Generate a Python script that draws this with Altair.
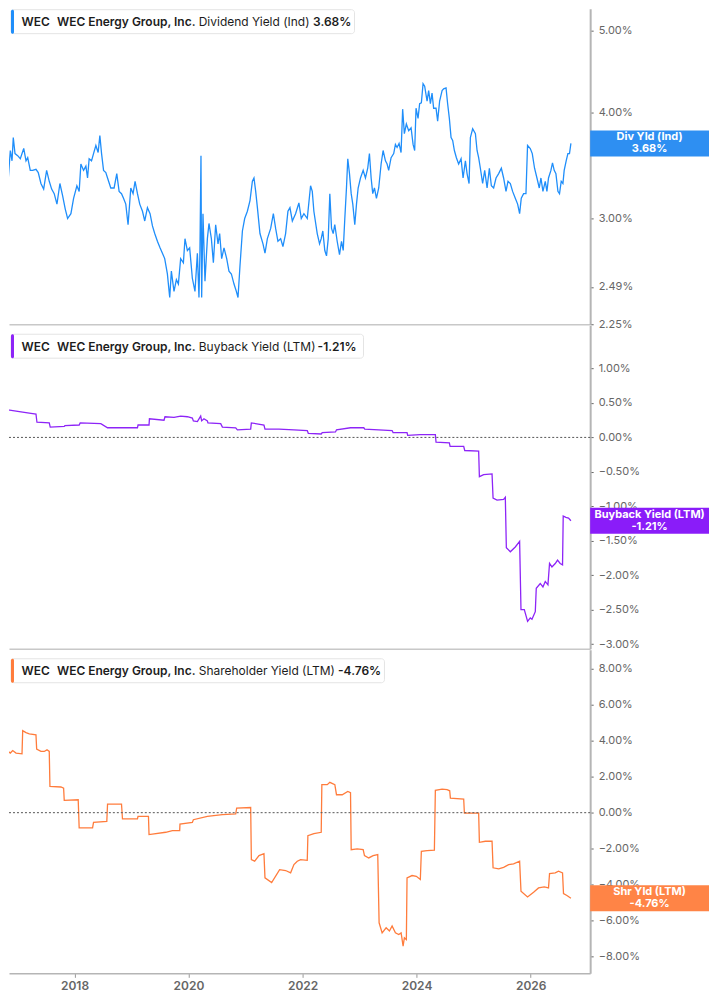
import altair as alt
import pandas as pd

FONT = "Inter"
BLUE = "#1f8efa"
BLUE_TAG = "#2e8ff2"
PURPLE = "#8d24f7"
PURPLE_TAG = "#8a1cf9"
ORANGE = "#ff7c3c"
ORANGE_TAG = "#ff8446"
AXIS_GREY = "#b5b5b5"
LABEL_GREY = "#666666"

# Dividend Yield (Ind), % -- decimal year / value
div_year = [
    2016.711, 2016.729, 2016.769, 2016.799, 2016.839, 2016.874, 2016.904, 2016.926, 2016.956, 2017.003,
    2017.049, 2017.109, 2017.149, 2017.179, 2017.224, 2017.266, 2017.324, 2017.364, 2017.411, 2017.459,
    2017.511, 2017.557, 2017.599, 2017.644, 2017.692, 2017.744, 2017.792, 2017.837, 2017.879, 2017.937,
    2017.984, 2018.042, 2018.082, 2018.112, 2018.159, 2018.200, 2018.229, 2018.257, 2018.299, 2018.334,
    2018.375, 2018.415, 2018.445, 2018.475, 2018.510, 2018.550, 2018.580, 2018.637, 2018.695, 2018.742,
    2018.783, 2018.825, 2018.860, 2018.900, 2018.940, 2018.988, 2019.028, 2019.063, 2019.105, 2019.145,
    2019.193, 2019.233, 2019.280, 2019.326, 2019.368, 2019.408, 2019.455, 2019.501, 2019.543, 2019.583,
    2019.630, 2019.671, 2019.700, 2019.746, 2019.788, 2019.823, 2019.863, 2019.911, 2019.939, 2019.981,
    2020.021, 2020.068, 2020.114, 2020.156, 2020.184, 2020.201, 2020.219, 2020.231, 2020.254, 2020.289,
    2020.331, 2020.359, 2020.401, 2020.436, 2020.476, 2020.517, 2020.546, 2020.581, 2020.622, 2020.669,
    2020.709, 2020.751, 2020.797, 2020.839, 2020.867, 2020.902, 2020.944, 2020.984, 2021.031, 2021.077,
    2021.119, 2021.147, 2021.177, 2021.207, 2021.252, 2021.305, 2021.340, 2021.382, 2021.440, 2021.487,
    2021.527, 2021.567, 2021.615, 2021.655, 2021.702, 2021.743, 2021.778, 2021.820, 2021.877, 2021.935,
    2021.977, 2022.023, 2022.082, 2022.140, 2022.170, 2022.198, 2022.257, 2022.298, 2022.327, 2022.355,
    2022.390, 2022.420, 2022.450, 2022.478, 2022.508, 2022.537, 2022.565, 2022.607, 2022.648, 2022.683,
    2022.713, 2022.741, 2022.770, 2022.793, 2022.823, 2022.853, 2022.881, 2022.916, 2022.946, 2022.975,
    2023.016, 2023.063, 2023.103, 2023.143, 2023.173, 2023.203, 2023.231, 2023.261, 2023.296, 2023.336,
    2023.378, 2023.413, 2023.454, 2023.483, 2023.511, 2023.553, 2023.599, 2023.629, 2023.658, 2023.693,
    2023.728, 2023.756, 2023.786, 2023.821, 2023.862, 2023.904, 2023.939, 2023.967, 2023.991, 2024.026,
    2024.054, 2024.084, 2024.114, 2024.142, 2024.184, 2024.212, 2024.242, 2024.271, 2024.299, 2024.341,
    2024.369, 2024.404, 2024.447, 2024.474, 2024.516, 2024.544, 2024.574, 2024.604, 2024.632, 2024.662,
    2024.697, 2024.737, 2024.779, 2024.814, 2024.855, 2024.884, 2024.919, 2024.942, 2024.982, 2025.030,
    2025.059, 2025.087, 2025.117, 2025.157, 2025.193, 2025.235, 2025.275, 2025.310, 2025.350, 2025.392,
    2025.438, 2025.485, 2025.525, 2025.567, 2025.602, 2025.643, 2025.683, 2025.730, 2025.771, 2025.806,
    2025.835, 2025.876, 2025.917, 2025.945, 2025.993, 2026.028, 2026.068, 2026.110, 2026.151, 2026.180,
    2026.215, 2026.256, 2026.285, 2026.313, 2026.355, 2026.383, 2026.413, 2026.443, 2026.478, 2026.506,
    2026.536, 2026.566, 2026.588, 2026.623, 2026.653, 2026.681, 2026.706,
]
div_yield = [
    3.23, 3.15, 3.48, 3.42, 3.35, 3.61, 3.51, 3.74, 3.58, 3.56,
    3.53, 3.63, 3.51, 3.54, 3.42, 3.42, 3.43, 3.40, 3.30, 3.25,
    3.42, 3.32, 3.25, 3.21, 3.12, 3.30, 3.19, 3.08, 3.00, 3.04,
    3.17, 3.28, 3.23, 3.48, 3.42, 3.46, 3.35, 3.53, 3.51, 3.58,
    3.66, 3.59, 3.76, 3.58, 3.42, 3.40, 3.35, 3.26, 3.26, 3.39,
    3.23, 3.21, 3.17, 3.12, 2.95, 3.26, 3.21, 3.32, 3.21, 3.12,
    3.06, 2.98, 3.09, 3.04, 2.94, 2.88, 2.82, 2.77, 2.73, 2.69,
    2.58, 2.42, 2.60, 2.46, 2.54, 2.51, 2.69, 2.66, 2.84, 2.75,
    2.77, 2.55, 2.46, 2.73, 2.42, 2.75, 3.56, 2.42, 3.04, 2.53,
    2.84, 2.96, 2.84, 2.66, 2.95, 2.80, 2.88, 2.69, 2.77, 2.69,
    2.60, 2.58, 2.51, 2.46, 2.42, 2.64, 2.90, 3.00, 3.06, 3.15,
    3.32, 3.35, 3.23, 3.09, 2.88, 2.80, 2.73, 2.84, 2.92, 3.04,
    2.92, 2.82, 2.84, 2.78, 2.88, 3.06, 3.09, 2.98, 3.04, 3.13,
    3.00, 3.04, 3.00, 3.28, 3.23, 3.06, 2.88, 2.80, 2.84, 2.90,
    2.75, 2.71, 2.84, 3.21, 2.92, 2.88, 2.95, 2.82, 2.72, 2.82,
    2.75, 3.00, 3.26, 3.53, 3.39, 3.21, 3.12, 2.95, 3.12, 3.26,
    3.35, 3.42, 3.35, 3.44, 3.58, 3.35, 3.21, 3.26, 3.17, 3.26,
    3.48, 3.61, 3.51, 3.48, 3.42, 3.54, 3.58, 3.67, 3.64, 3.68,
    3.59, 4.04, 3.78, 3.88, 3.81, 3.84, 3.67, 3.61, 4.05, 3.94,
    4.10, 4.11, 4.33, 4.30, 4.13, 4.25, 4.10, 4.22, 4.05, 4.05,
    3.91, 4.13, 4.25, 4.27, 4.28, 4.10, 3.94, 3.74, 3.71, 3.61,
    3.54, 3.48, 3.53, 3.35, 3.51, 3.39, 3.30, 3.74, 3.83, 3.78,
    3.61, 3.54, 3.44, 3.30, 3.42, 3.26, 3.44, 3.28, 3.26, 3.35,
    3.39, 3.44, 3.35, 3.23, 3.32, 3.30, 3.23, 3.17, 3.12, 3.04,
    3.17, 3.21, 3.21, 3.66, 3.63, 3.58, 3.44, 3.35, 3.26, 3.35,
    3.23, 3.32, 3.23, 3.35, 3.42, 3.49, 3.42, 3.39, 3.23, 3.21,
    3.32, 3.30, 3.42, 3.51, 3.58, 3.58, 3.68,
]

# Buyback Yield (LTM), %
bb_year = [
    2016.711, 2016.758, 2016.799, 2016.828, 2017.061, 2017.236, 2017.324, 2017.341, 2017.557, 2017.574,
    2017.820, 2017.832, 2018.082, 2018.100, 2018.462, 2018.580, 2019.105, 2019.115, 2019.308, 2019.315,
    2019.571, 2019.588, 2019.746, 2019.863, 2019.981, 2020.068, 2020.086, 2020.156, 2020.214, 2020.231,
    2020.271, 2020.331, 2020.341, 2020.564, 2020.594, 2020.827, 2020.856, 2021.089, 2021.101, 2021.322,
    2021.340, 2021.585, 2021.848, 2022.082, 2022.100, 2022.327, 2022.345, 2022.578, 2022.595, 2022.841,
    2023.074, 2023.091, 2023.336, 2023.571, 2023.588, 2023.833, 2023.844, 2024.066, 2024.329, 2024.341,
    2024.574, 2024.587, 2024.825, 2024.843, 2025.087, 2025.100, 2025.175, 2025.322, 2025.340, 2025.410,
    2025.525, 2025.555, 2025.573, 2025.643, 2025.730, 2025.806, 2025.830, 2025.888, 2025.946, 2025.993,
    2026.023, 2026.081, 2026.098, 2026.168, 2026.215, 2026.256, 2026.303, 2026.331, 2026.373, 2026.431,
    2026.471, 2026.518, 2026.559, 2026.571, 2026.618, 2026.664, 2026.706,
]
bb_yield = [
    0.43, 0.46, 0.44, 0.40, 0.37, 0.35, 0.34, 0.22, 0.21, 0.15,
    0.16, 0.17, 0.18, 0.21, 0.20, 0.14, 0.14, 0.18, 0.18, 0.27,
    0.25, 0.30, 0.29, 0.31, 0.30, 0.28, 0.24, 0.23, 0.31, 0.24,
    0.27, 0.24, 0.21, 0.20, 0.15, 0.14, 0.11, 0.12, 0.21, 0.18,
    0.12, 0.12, 0.11, 0.10, 0.06, 0.05, 0.07, 0.08, 0.11, 0.14,
    0.14, 0.12, 0.11, 0.10, 0.07, 0.07, 0.03, 0.04, 0.04, -0.07,
    -0.08, -0.13, -0.13, -0.19, -0.20, -0.57, -0.54, -0.53, -0.88, -0.91,
    -0.90, -0.87, -1.60, -1.66, -1.59, -1.51, -2.50, -2.50, -2.67, -2.62,
    -2.64, -2.53, -2.19, -2.12, -2.17, -2.09, -2.14, -1.83, -1.88, -1.83,
    -1.78, -1.83, -1.85, -1.14, -1.16, -1.17, -1.21,
]

# Shareholder Yield (LTM), %
shr_year = [
    2016.711, 2016.758, 2016.799, 2016.839, 2016.874, 2016.916, 2016.974, 2017.079, 2017.091, 2017.149,
    2017.207, 2017.324, 2017.336, 2017.411, 2017.469, 2017.517, 2017.557, 2017.569, 2017.762, 2017.809,
    2017.820, 2018.065, 2018.082, 2018.317, 2018.334, 2018.567, 2018.580, 2018.825, 2018.842, 2019.105,
    2019.115, 2019.298, 2019.308, 2019.601, 2019.718, 2019.846, 2019.851, 2020.068, 2020.086, 2020.331,
    2020.594, 2020.827, 2020.844, 2021.089, 2021.101, 2021.159, 2021.235, 2021.322, 2021.340, 2021.457,
    2021.597, 2021.702, 2021.790, 2021.848, 2021.907, 2021.965, 2022.082, 2022.093, 2022.198, 2022.327,
    2022.338, 2022.433, 2022.478, 2022.566, 2022.595, 2022.695, 2022.793, 2022.841, 2022.853, 2022.958,
    2023.063, 2023.086, 2023.161, 2023.238, 2023.319, 2023.343, 2023.396, 2023.466, 2023.524, 2023.571,
    2023.629, 2023.687, 2023.729, 2023.764, 2023.786, 2023.821, 2023.833, 2023.921, 2023.996, 2024.066,
    2024.084, 2024.184, 2024.312, 2024.329, 2024.447, 2024.534, 2024.580, 2024.592, 2024.825, 2024.837,
    2025.087, 2025.100, 2025.205, 2025.322, 2025.340, 2025.438, 2025.525, 2025.613, 2025.700, 2025.806,
    2025.830, 2025.945, 2026.051, 2026.138, 2026.238, 2026.313, 2026.331, 2026.431, 2026.489, 2026.559,
    2026.576, 2026.636, 2026.706,
]
shr_yield = [
    3.13, 3.35, 3.32, 3.40, 3.32, 3.46, 3.32, 3.28, 4.57, 4.46,
    4.39, 4.33, 3.54, 3.41, 3.41, 3.50, 3.41, 1.46, 1.43, 1.37,
    0.69, 0.72, -0.85, -0.85, -0.54, -0.48, 0.48, 0.48, -0.35, -0.35,
    -0.20, -0.20, -1.22, -1.09, -1.00, -1.00, -0.63, -0.54, -0.39, -0.20,
    -0.11, -0.07, 0.26, 0.29, -2.61, -2.70, -2.39, -2.28, -3.63, -3.89,
    -3.17, -3.22, -3.35, -2.89, -2.70, -2.61, -2.65, -1.28, -1.17, -1.09,
    1.56, 1.56, 1.69, 1.56, 1.00, 1.00, 1.18, 1.11, -2.06, -2.02,
    -2.06, -2.39, -2.52, -2.39, -2.33, -6.13, -6.69, -6.41, -6.59, -6.31,
    -6.69, -6.78, -6.69, -7.43, -6.96, -7.06, -3.63, -3.50, -3.54, -3.72,
    -2.15, -2.11, -2.09, 1.24, 1.31, 1.28, 1.22, 0.81, 0.76, -0.02,
    -0.02, -1.65, -1.59, -1.59, -3.07, -3.13, -3.04, -2.89, -2.85, -2.70,
    -4.37, -4.69, -4.43, -4.19, -4.13, -4.19, -3.39, -3.35, -3.26, -3.35,
    -4.50, -4.61, -4.76,
]

# the page margin hides the first 8px of the reference plot, so the view starts a little later
X_START = 2016.851
X_END = 2027.044
PANEL_W = 582
TAG_LEFT = 582
TAG_RIGHT = 701
TAG_H = 26


def to_date(year):
    """Decimal year -> pandas Timestamp."""
    base = pd.Timestamp(int(year), 1, 1)
    nxt = pd.Timestamp(int(year) + 1, 1, 1)
    return (base + (nxt - base) * (year - int(year))).round("s")


def to_dt(year):
    t = to_date(year)
    return alt.DateTime(year=t.year, month=t.month, date=t.day,
                        hours=t.hour, minutes=t.minute)


X_SCALE = alt.Scale(domain=[to_dt(X_START), to_dt(X_END)])

# value tag drawn as a custom symbol: width = sqrt(size), path normalised to [-1, 1]
TAG_W = TAG_RIGHT - TAG_LEFT
TAG_HALF = TAG_H / TAG_W
TAG_SHAPE = f"M-1,-{TAG_HALF:.4f}H1V{TAG_HALF:.4f}H-1Z"


def make_panel(years, values, color, tag_color, y_scale, y_ticks, metric, value_text,
               box_right, value_x, tag_label, zero_line, bottom, height, box_top):
    df = pd.DataFrame({"date": [to_date(y) for y in years], "v": values})
    last = df.tail(1)
    one = pd.DataFrame({"a": [0]})

    y_axis = alt.Axis(orient="right", values=y_ticks, title=None, grid=False,
                      labelExpr="format(datum.value, '.2f') + '%'",
                      domainColor=AXIS_GREY, domainWidth=2, tickColor=LABEL_GREY,
                      tickSize=3, labelColor=LABEL_GREY, labelFont=FONT,
                      labelFontSize=11, labelPadding=5)
    if bottom:
        x_axis = alt.Axis(title=None, grid=False, format="%Y",
                          values=[alt.DateTime(year=y, month=1, date=1) for y in range(2018, 2027, 2)],
                          domainColor=AXIS_GREY, domainWidth=1.5, tickColor="#999999",
                          tickSize=4, labelColor=LABEL_GREY, labelFont=FONT,
                          labelFontSize=12, labelFontWeight=600, labelPadding=3)
    else:
        x_axis = alt.Axis(title=None, grid=False, labels=False, ticks=False,
                          domainColor="#c8c8c8", domainWidth=1.5)

    line = alt.Chart(df).mark_line(color=color, strokeWidth=1.3, clip=True).encode(
        x=alt.X("date:T", scale=X_SCALE, axis=x_axis),
        y=alt.Y("v:Q", scale=y_scale, axis=y_axis),
    )
    layers = [line]

    if zero_line:
        layers.append(
            alt.Chart(pd.DataFrame({"v": [0.0]})).mark_rule(
                color="#555555", strokeDash=[2, 2], strokeWidth=1
            ).encode(y=alt.Y("v:Q", title=None))
        )

    # legend box in the top-left corner
    layers.append(
        alt.Chart(one).mark_rect(fill="white", stroke="#e4e4e4", strokeWidth=1, cornerRadius=3).encode(
            x=alt.value(2), x2=alt.value(box_right), y=alt.value(box_top), y2=alt.value(box_top + 24)
        )
    )
    layers.append(
        alt.Chart(one).mark_rect(fill=color, cornerRadius=1.5).encode(
            x=alt.value(2), x2=alt.value(5), y=alt.value(box_top), y2=alt.value(box_top + 24)
        )
    )
    pieces = [
        ("WEC", 12.5, 600),
        ("WEC Energy Group, Inc.", 48, 600),
        (metric, 190, 400),
        (value_text, value_x, 600),
    ]
    for text, px, weight in pieces:
        layers.append(
            alt.Chart(one).mark_text(align="left", baseline="middle", font=FONT, fontSize=12,
                                     fontWeight=weight, color="#1c1c1c").encode(
                x=alt.value(px), y=alt.value(box_top + 12.5), text=alt.value(text)
            )
        )

    # value tag on the right axis
    layers.append(
        alt.Chart(last).mark_point(shape=TAG_SHAPE, size=TAG_W ** 2, filled=True, opacity=1,
                                   color=tag_color, strokeWidth=0).encode(
            x=alt.value((TAG_LEFT + TAG_RIGHT) / 2), y=alt.Y("v:Q", title=None)
        )
    )
    for text, dy in [(tag_label, -6), (value_text, 6)]:
        layers.append(
            alt.Chart(last).mark_text(align="center", baseline="middle", font=FONT, fontSize=11,
                                      fontWeight="bold", color="white", dy=dy).encode(
                x=alt.value((TAG_LEFT + TAG_RIGHT) / 2), y=alt.Y("v:Q", title=None),
                text=alt.value(text)
            )
        )

    return alt.layer(*layers).properties(width=PANEL_W, height=height)


div_panel = make_panel(
    div_year, div_yield, BLUE, BLUE_TAG,
    alt.Scale(type="log", domain=[2.25, 5.31], nice=False),
    [2.25, 2.49, 3.0, 4.0, 5.0],
    "Dividend Yield (Ind)", "3.68%", 346, 304.5, "Div Yld (Ind)", False, False, 316, 1,
)
bb_panel = make_panel(
    bb_year, bb_yield, PURPLE, PURPLE_TAG,
    alt.Scale(domain=[-3.068, 1.628], nice=False, zero=False),
    [-3.0, -2.5, -2.0, -1.5, -1.0, -0.5, 0.0, 0.5, 1.0],
    "Buyback Yield (LTM)", "-1.21%", 355, 309, "Buyback Yield (LTM)", True, False, 324, 9,
)
shr_panel = make_panel(
    shr_year, shr_yield, ORANGE, ORANGE_TAG,
    alt.Scale(domain=[-8.944, 9.07], nice=False, zero=False),
    [-8.0, -6.0, -4.0, -2.0, 0.0, 2.0, 4.0, 6.0, 8.0],
    "Shareholder Yield (LTM)", "-4.76%", 376, 329.5, "Shr Yld (LTM)", True, True, 324, 9,
)

chart = alt.vconcat(div_panel, bb_panel, shr_panel, spacing=1, bounds="flush").properties(
    padding=0,
    background="white",
).configure_view(stroke=None)

chart.save("out.html", embed_options={"renderer": "svg", "actions": False})
